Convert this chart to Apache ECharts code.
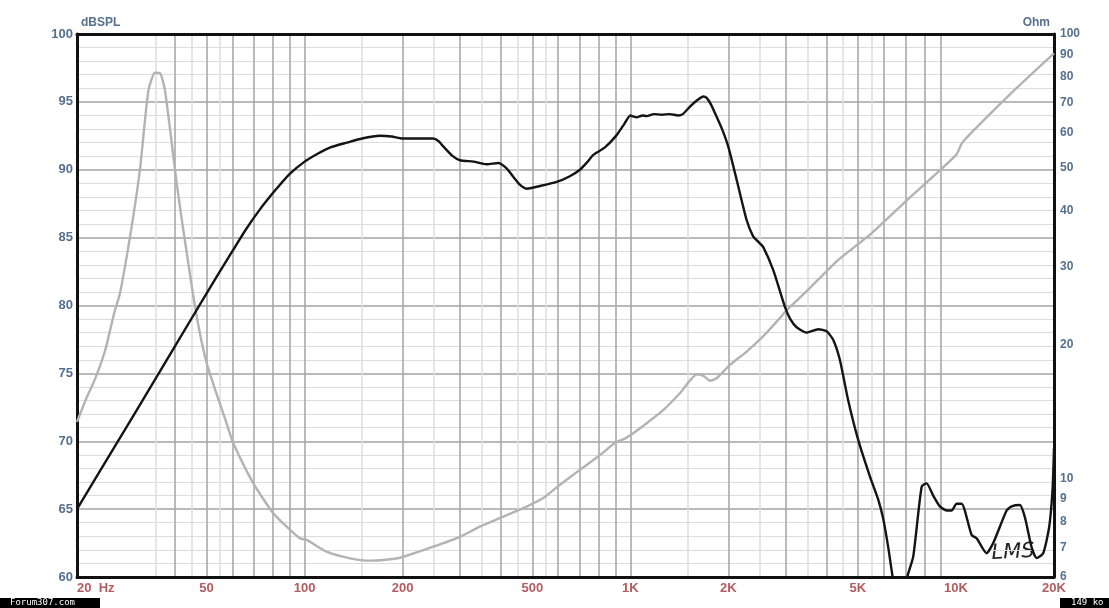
<!DOCTYPE html>
<html><head><meta charset="utf-8">
<script src="https://cdn.jsdelivr.net/npm/echarts@6/dist/echarts.min.js"></script>
<style>html,body{margin:0;padding:0;background:#fff}#c{width:1109px;height:608px}</style>
</head><body><div id="c"></div>
<script>
// SPL response (black curve)
const splFreq = [20,30,40,50,60,66,73,80,84,90,100,110,120,135,150,170,185,200,225,248,258,267,285,300,330,362,393,417,440,458,480,528,594,650,700,740,770,836,908,960,1000,1046,1090,1123,1180,1250,1320,1404,1450,1525,1600,1675,1716,1770,1841,1920,1999,2122,2276,2386,2470,2560,2748,2984,3100,3242,3479,3776,4008,4200,4400,4668,5010,5444,5772,5978,6194,6392,6700,6900,7085,7392,7846,8126,8514,8926,9362,9698,10046,10406,11170,11572,12420,13012,14306,14820,15714,16280,17070,17686,18530,19334,19800,20000];
const splDb = [65.0,72.0,77.0,80.9,84.0,85.6,87.1,88.3,88.9,89.7,90.6,91.2,91.65,92.0,92.3,92.5,92.45,92.3,92.3,92.3,92.1,91.7,91.0,90.7,90.6,90.4,90.5,90.1,89.4,88.9,88.6,88.8,89.1,89.5,90.0,90.6,91.1,91.65,92.55,93.4,94.0,93.86,94.0,93.95,94.1,94.05,94.1,94.0,94.1,94.65,95.1,95.4,95.3,94.8,93.9,92.9,91.7,89.25,86.3,85.07,84.7,84.3,82.6,79.9,79.0,78.4,78.0,78.25,78.1,77.46,76.0,73.0,70.1,67.4,65.7,64.3,62.2,60.0,57.5,58.0,60.0,61.5,66.65,66.9,66.0,65.2,64.9,64.9,65.4,65.4,63.1,62.85,61.75,62.5,64.9,65.2,65.3,64.4,62.2,61.4,61.75,63.7,66.5,69.5];
// Impedance (grey curve)
const impFreq = [20,21.5,22.7,24.4,26,27.1,29.1,31.2,33.1,34.7,36.0,37.3,40.0,41.4,46.1,50,57.6,60.4,69.6,80.1,90.2,96.9,101.5,116.8,137.8,158.8,196.5,248,300,345,397,469,539,600,700,808,900,966,1000,1123,1264,1420,1604,1680,1754,1841,2022,2276,2560,2887,3000,3500,4300,4732,5500,7050,10000,10500,15000,20000];
const impOhm = [13.4,15.3,16.7,19.4,23.5,26.1,35.0,49.4,74.2,81.8,81.6,74.2,49.4,40.9,24.3,18.2,13.3,12.0,9.75,8.35,7.66,7.33,7.27,6.84,6.61,6.53,6.63,7.02,7.39,7.79,8.14,8.57,9.02,9.6,10.45,11.29,12.04,12.31,12.5,13.31,14.26,15.55,17.15,17.0,16.59,16.8,18.0,19.29,20.9,23.0,23.8,26.5,30.8,32.6,35.6,42.2,53.4,57.2,74.4,90.5];
// Tick / grid values
const xLabelTicks = [20,50,100,200,500,1000,2000,5000,10000,20000];
const xMajorGrid = [30,40,50,60,70,80,90,100,200,300,400,500,600,700,800,900,1000,2000,3000,4000,5000,6000,7000,8000,9000,10000];
const xMinorGrid = [25,35,45,55,150,250,350,450,550,1500,2500,3500,4500,5500,15000];
const ohmTicks = [6,7,8,9,10,20,30,40,50,60,70,80,90,100];

const blue = '#56708f', red = '#b35c60';
const FF = 'Liberation Sans, Arial, sans-serif';
const chart = echarts.init(document.getElementById('c'), null, {renderer:'canvas'});
const baseLog = {type:'log', logBase:10, min:20, max:20000, gridIndex:0};
chart.setOption({
  animation:false,
  backgroundColor:'#fff',
  grid:{left:77, right:55, top:34, bottom:31, containLabel:false},
  xAxis:[
    Object.assign({}, baseLog, {
      position:'bottom',
      axisLine:{show:true, onZero:false, lineStyle:{color:'#111', width:3}},
      axisTick:{show:false, customValues:xMajorGrid},
      axisLabel:{show:true, customValues:xLabelTicks, color:red, fontWeight:'bold', fontSize:13,
        fontFamily:FF, margin:5, alignMinLabel:'left', alignMaxLabel:'center',
        formatter:v => v===20 ? '20  Hz' : (v>=1000 ? (v/1000)+'K' : String(v))},
      splitLine:{show:true, showMinLine:false, showMaxLine:false, lineStyle:{color:'#a9a9a9', width:1.6}},
      minorSplitLine:{show:false}
    }),
    Object.assign({}, baseLog, {
      position:'bottom',
      axisLine:{show:false, onZero:false},
      axisTick:{show:false, customValues:xMinorGrid},
      axisLabel:{show:false},
      splitLine:{show:true, showMinLine:false, showMaxLine:false, lineStyle:{color:'#dedede', width:1.5}}
    }),
    Object.assign({}, baseLog, {
      position:'top',
      axisLine:{show:true, onZero:false, lineStyle:{color:'#111', width:3}},
      axisTick:{show:false}, axisLabel:{show:false}, splitLine:{show:false}
    })
  ],
  yAxis:[
    {type:'value', min:60, max:100, interval:5, position:'left',
      name:'dBSPL', nameLocation:'end', nameGap:5,
      nameTextStyle:{color:blue, fontWeight:'bold', fontSize:12, fontFamily:FF, align:'left', padding:[0,0,0,4]},
      axisLine:{show:true, onZero:false, lineStyle:{color:'#111', width:3}},
      axisTick:{show:false},
      axisLabel:{color:blue, fontWeight:'bold', fontSize:13, fontFamily:FF, margin:4},
      splitLine:{show:true, showMinLine:false, showMaxLine:false, lineStyle:{color:'#a3a3a3', width:1.6}},
      minorTick:{show:false, splitNumber:5},
      minorSplitLine:{show:true, lineStyle:{color:'#dcdcdc', width:1}}
    },
    {type:'log', logBase:10, min:6, max:100, position:'right',
      name:'Ohm', nameLocation:'end', nameGap:5,
      nameTextStyle:{color:blue, fontWeight:'bold', fontSize:12, fontFamily:FF, align:'right', padding:[0,4,0,0]},
      axisLine:{show:true, onZero:false, lineStyle:{color:'#111', width:3}},
      axisTick:{show:false, customValues:ohmTicks},
      axisLabel:{customValues:ohmTicks, color:blue, fontWeight:'bold', fontSize:12, fontFamily:FF, margin:6},
      splitLine:{show:false}
    }
  ],
  series:[
    {type:'line', name:'Impedance', xAxisIndex:0, yAxisIndex:1, showSymbol:false, smooth:0.2, clip:true, z:2,
      lineStyle:{color:'#b3b3b3', width:2.4}, data:impFreq.map((f,i)=>[f, impOhm[i]])},
    {type:'line', name:'SPL', xAxisIndex:0, yAxisIndex:0, showSymbol:false, smooth:0.2, clip:true, z:3,
      lineStyle:{color:'#141414', width:2.4}, data:splFreq.map((f,i)=>[f, splDb[i]])}
  ],
  graphic:[
    {type:'text', left:991, top:541, rotation:0.05, style:{text:'LMS', fill:'#222', font:'italic 21px "DejaVu Sans", sans-serif'}},
    {type:'rect', left:0, top:598, shape:{width:100, height:10}, style:{fill:'#000'}},
    {type:'text', left:10, top:598, style:{text:'Forum307.com', fill:'#fff', font:'9px "DejaVu Sans Mono", monospace'}},
    {type:'rect', left:1060, top:598, shape:{width:49, height:10}, style:{fill:'#000'}},
    {type:'text', left:1071, top:598, style:{text:'149 ko', fill:'#fff', font:'9px "DejaVu Sans Mono", monospace'}}
  ]
});
</script></body></html>
